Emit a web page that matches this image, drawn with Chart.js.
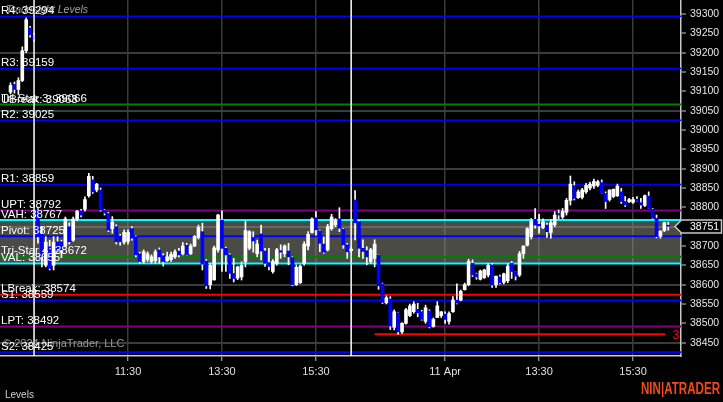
<!DOCTYPE html>
<html><head><meta charset="utf-8">
<script src="https://cdn.jsdelivr.net/npm/chart.js@4.4.1/dist/chart.umd.min.js"></script>
<style>html,body{margin:0;padding:0;background:#000;overflow:hidden}canvas{display:block;background:#000}</style>
</head><body>
<canvas id="c" width="723" height="402"></canvas>
<script>
// ---- DATA (5-minute bars, index 0..168) ----
const opens=[39098,39118,39105,39128,39205,39264,39246,
38793,38733,38650,38698,38650,38711,38711,38700,38750,38715,38770,38791,38795,38830,38871,38845,38845,38793,38784,38745,38750,38726,38710,38712,38745,38724,38680,38660,38665,38660,38662,38690,38675,38662,38665,38672,38687,38680,38702,38680,38700,38722,38737,38661,38600,38612,38690,38767,38694,38677,38629,38617,38620,38660,38694,38722,38680,38731,38687,38657,38634,38655,38688,38680,38687,38670,38600,38605,38655,38700,38735,38773,38739,38705,38690,38745,38755,38770,38743,38703,38688,
38819,38763,38694,38688,38660,38668,38676,38602,38553,38563,38490,38527,38478,38500,38520,38530,38536,38530,38505,38532,38492,38515,38520,38524,38505,38530,38560,38560,38587,38600,38655,38628,38614,38618,38625,38651,38600,38620,38606,38610,38655,38634,38625,38680,38702,38724,38769,38756,38748,38754,38735,38755,38784,38775,38787,38818,38856,38825,38826,38840,38850,38855,38857,38864,38836,38820,38828,38830,38840,38815,38815,38813,38821,38812,38805,38829,38795,38772,38725,38740,38753];
const highs=[39122,39124,39135,39215,39290,39268,39250,
38797,38750,38724,38715,38724,38724,38715,38775,38760,38775,38792,38795,38827,38888,38880,38862,38850,38795,38787,38776,38755,38730,38742,38742,38750,38726,38684,38690,38685,38677,38690,38695,38680,38684,38684,38690,38694,38709,38707,38705,38727,38754,38759,38665,38655,38700,38782,38791,38697,38680,38668,38648,38659,38765,38740,38737,38715,38754,38694,38694,38665,38694,38703,38703,38707,38672,38651,38651,38711,38737,38773,38789,38741,38724,38756,38782,38771,38799,38745,38707,38696,
38843,38766,38716,38698,38694,38716,38677,38604,38571,38569,38535,38528,38502,38539,38550,38556,38552,38534,38547,38535,38514,38556,38530,38530,38530,38569,38602,38586,38604,38666,38664,38630,38638,38640,38655,38655,38622,38625,38630,38654,38660,38634,38686,38700,38747,38771,38797,38782,38770,38759,38768,38789,38793,38797,38823,38881,38866,38845,38849,38862,38865,38873,38870,38871,38840,38845,38847,38860,38849,38828,38823,38826,38828,38823,38832,38840,38797,38780,38740,38762,38762];
const lows=[39093,39095,39092,39125,39200,39240,39230,
38707,38646,38646,38638,38638,38686,38670,38698,38705,38712,38765,38775,38790,38826,38836,38840,38790,38780,38737,38733,38705,38702,38705,38705,38715,38672,38655,38655,38660,38655,38655,38655,38648,38660,38660,38668,38672,38677,38677,38678,38698,38718,38638,38590,38589,38612,38684,38634,38634,38616,38607,38613,38612,38646,38690,38684,38672,38664,38647,38638,38630,38650,38668,38672,38651,38597,38598,38603,38650,38690,38733,38728,38685,38681,38687,38741,38750,38737,38694,38668,38684,
38716,38672,38668,38651,38655,38646,38588,38551,38550,38484,38483,38472,38474,38498,38517,38526,38517,38508,38500,38488,38490,38515,38515,38500,38498,38528,38550,38558,38586,38597,38621,38614,38612,38616,38620,38593,38593,38602,38602,38605,38616,38612,38621,38668,38700,38718,38746,38733,38745,38722,38720,38750,38770,38771,38780,38806,38819,38823,38822,38836,38845,38849,38853,38836,38797,38816,38825,38828,38810,38802,38812,38810,38815,38797,38802,38797,38770,38721,38720,38737,38741];
const closes=[39115,39105,39128,39205,39285,39246,39234,
38724,38672,38710,38642,38710,38690,38690,38770,38711,38770,38790,38780,38820,38880,38840,38860,38793,38785,38741,38762,38711,38711,38735,38735,38720,38677,38660,38685,38680,38672,38685,38672,38660,38672,38678,38685,38677,38700,38678,38700,38725,38748,38653,38597,38650,38695,38780,38694,38677,38629,38616,38646,38650,38740,38737,38713,38705,38687,38655,38647,38660,38690,38684,38700,38672,38600,38645,38648,38705,38730,38770,38742,38707,38684,38750,38775,38765,38746,38703,38685,38692,
38760,38694,38686,38672,38690,38705,38597,38554,38566,38493,38530,38478,38500,38535,38545,38550,38527,38510,38540,38491,38510,38545,38530,38510,38525,38560,38552,38583,38600,38660,38625,38620,38635,38638,38650,38599,38622,38605,38628,38648,38634,38622,38680,38700,38745,38765,38754,38752,38763,38737,38760,38780,38780,38790,38818,38860,38823,38840,38845,38857,38860,38867,38866,38836,38815,38845,38847,38855,38815,38806,38820,38820,38816,38806,38830,38797,38772,38724,38738,38760,38751];

const xTickIdx=[30,54,78,111,135,159];
const xTickLabels=['11:30','13:30','15:30','11 Apr','13:30','15:30'];
const yTickValues=[38450,38500,38550,38600,38650,38700,38750,38800,38850,38900,38950,39000,39050,39100,39150,39200,39250,39300];
const sessionBreakIdx=[6,87];

const levelNames=['R4','R3','UBreak','Tri-Star 3','R2','R1','UPT','VAH','Pivot','Tri-Star 4','VAL','LBreak','S1','LPT','S2'];
const levelValues=[39294,39159,39063,39066,39025,38859,38792,38767,38725,38672,38655,38574,38559,38492,38425];
const targetValue=38472, targetLabel='3', targetFrom=93, targetTo=167.2;
const lastPrice=38751;
const titleText='Tradesight Levels';
const copyrightText='\u00a9 2024 NinjaTrader, LLC';
const panelLabel='Levels';
const logoText='NIN|ATRADER';

// ---- STYLES ----
const X_MIN=-2.695, X_MAX=171.25, Y_MIN=38415.5, Y_MAX=39336.2;
const levelStyle={
 'R4':['#0000ff',1.5],'R3':['#0000ff',1.5],'UBreak':[null,0],'Tri-Star 3':['#008000',2],
 'R2':['#0000ff',1.5],'R1':['#0000ff',1.5],'UPT':['#800080',2],'VAH':['#00ffff',2],
 'Pivot':['#0000ff',2],'Tri-Star 4':['#008000',2],'VAL':['#00ffff',2],'LBreak':['#ff0000',2],
 'S1':['#0000ff',2],'LPT':['#800080',2],'S2':['#0000ff',2]
};
const FONT='"Liberation Sans", Arial, sans-serif';
const NARROW='"Liberation Sans Narrow", "Arial Narrow", "Liberation Sans", Arial, sans-serif';

const wickData=opens.map((o,i)=>({x:i,y:[lows[i],highs[i]]}));
const bodyData=opens.map((o,i)=>({x:i,y:[Math.min(o,closes[i]),Math.max(o,closes[i])]}));
const bodyColors=opens.map((o,i)=>closes[i]>=o?'#ffffff':'#0000ff');

const datasets=[];
levelNames.forEach((n,i)=>{
  const st=levelStyle[n];
  if(!st[0]) return;
  datasets.push({type:'line',data:[{x:X_MIN,y:levelValues[i]},{x:X_MAX,y:levelValues[i]}],
    borderColor:st[0],borderWidth:st[1],pointRadius:0,order:10,fill:false,tension:0});
});
datasets.push({type:'line',data:[{x:targetFrom,y:targetValue},{x:targetTo,y:targetValue}],
  borderColor:'#ff0000',borderWidth:2,pointRadius:0,order:10,fill:false});
datasets.push({type:'bar',data:wickData,backgroundColor:'#ffffff',barThickness:1,grouped:false,order:2,borderWidth:0});
datasets.push({type:'bar',data:bodyData,backgroundColor:bodyColors,barThickness:3,grouped:false,minBarLength:1,order:1,borderWidth:0});

const vah=levelValues[levelNames.indexOf('VAH')], val=levelValues[levelNames.indexOf('VAL')];

const overlay={
 id:'overlay',
 beforeDatasetsDraw(chart){
   const {ctx,chartArea:a,scales:{x,y}}=chart;
   ctx.save();
   ctx.fillStyle='rgba(150,150,138,0.5)';
   const t=y.getPixelForValue(vah), b=y.getPixelForValue(val);
   ctx.fillRect(a.left,t,a.right-a.left,b-t);
   ctx.restore();
 },
 afterDatasetsDraw(chart){
   const {ctx,chartArea:a,scales:{x,y}}=chart;
   ctx.save();
   ctx.beginPath();ctx.rect(a.left,a.top,a.right-a.left,a.bottom-a.top);ctx.clip();
   ctx.strokeStyle='#ffffff';ctx.lineWidth=1.5;
   sessionBreakIdx.forEach(i=>{const px=x.getPixelForValue(i);ctx.beginPath();ctx.moveTo(px,a.top);ctx.lineTo(px,a.bottom);ctx.stroke();});
   ctx.font='italic 10.5px '+FONT;ctx.fillStyle='#a0a0a0';ctx.textBaseline='alphabetic';ctx.textAlign='left';
   ctx.fillText(titleText,6,12.5);
   ctx.font='11px '+FONT;ctx.fillStyle='#9a9a9a';
   ctx.fillText(copyrightText,3,346.5);
   ctx.font='11.5px '+FONT;ctx.fillStyle='#ffffff';
   levelNames.forEach((n,i)=>{
     const py=y.getPixelForValue(levelValues[i]);
     ctx.fillText(n+': '+levelValues[i],a.left+1,py-2.5);
   });
   ctx.font='13px '+FONT;ctx.fillStyle='#ff0000';
   ctx.fillText(targetLabel,x.getPixelForValue(targetTo)+7,y.getPixelForValue(targetValue)+5);
   ctx.restore();
 },
 afterDraw(chart){
   const {ctx,chartArea:a,scales:{y}}=chart;
   ctx.save();
   const py=Math.round(y.getPixelForValue(lastPrice))+0.5;
   ctx.beginPath();
   ctx.moveTo(675,py);ctx.lineTo(681.5,py-6.5);ctx.lineTo(721.5,py-6.5);ctx.lineTo(721.5,py+6.5);ctx.lineTo(681.5,py+6.5);ctx.closePath();
   ctx.fillStyle='#000';ctx.fill();ctx.strokeStyle='#c8c8c8';ctx.lineWidth=1.5;ctx.stroke();
   ctx.font='10.5px '+FONT;ctx.fillStyle='#ffffff';ctx.textAlign='left';ctx.textBaseline='middle';
   ctx.fillText(String(lastPrice),690,py+0.5);
   ctx.font='10px '+NARROW;ctx.fillStyle='#d0d0d0';ctx.textBaseline='alphabetic';
   ctx.fillText(panelLabel,5,398);
   ctx.font='bold 16px '+FONT;
   const w=ctx.measureText(logoText).width;
   ctx.translate(641,394);ctx.scale(79/w,1);
   ctx.fillStyle='#f04a1e';ctx.fillText(logoText,0,0);
   ctx.restore();
 }
};

new Chart(document.getElementById('c'),{
 type:'bar',
 data:{datasets},
 options:{
   responsive:false,animation:false,devicePixelRatio:1,
   layout:{padding:0},
   plugins:{legend:{display:false},tooltip:{enabled:false}},
   events:[],
   scales:{
     x:{type:'linear',min:X_MIN,max:X_MAX,offset:false,position:'bottom',
        afterFit(s){s.height=46;s.paddingLeft=0;s.paddingRight=0;},
        afterBuildTicks(s){s.ticks=xTickIdx.map(v=>({value:v}));},
        grid:{offset:false,color:'#3a3a3a',lineWidth:1.5,drawOnChartArea:true,tickColor:'#c0c0c0',tickLength:5,tickWidth:1},
        border:{display:true,color:'#c8c8c8',width:1.5},
        ticks:{autoSkip:false,maxRotation:0,padding:4,color:'#e0e0e0',font:{family:NARROW,size:11},
          callback:(v)=>{const k=xTickIdx.indexOf(v);return k>=0?xTickLabels[k]:'';}}
     },
     y:{type:'linear',position:'right',min:Y_MIN,max:Y_MAX,
        afterFit(s){s.width=42;s.paddingTop=0;s.paddingBottom=0;},
        afterBuildTicks(s){s.ticks=yTickValues.map(v=>({value:v}));},
        grid:{color:(c)=>(c.tick&&((c.tick.value-38450)%150===0))?'#3c3c3c':'rgba(0,0,0,0)',lineWidth:2,
              drawOnChartArea:true,tickColor:'#c8c8c8',tickLength:5,tickWidth:1},
        border:{display:true,color:'#c8c8c8',width:1.5},
        ticks:{padding:4,color:'#e6e6e6',font:{family:FONT,size:10.5},callback:(v)=>String(v)}
     }
   }
 },
 plugins:[overlay]
});
</script>
</body></html>
